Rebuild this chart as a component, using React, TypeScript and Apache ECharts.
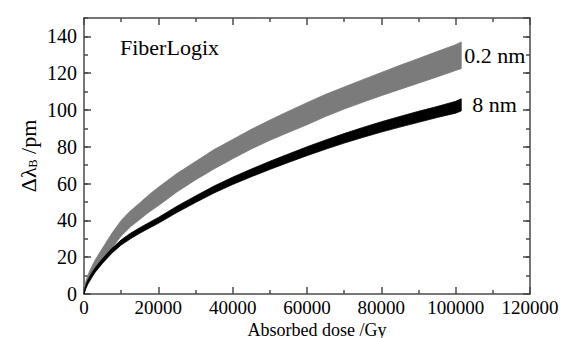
import React, { useEffect, useRef } from 'react';
import * as echarts from 'echarts';

// Absorbed dose (Gy)
const dose = [0, 500, 1000, 2000, 3000, 5000, 7500, 10000, 12500, 15000, 17500, 20000, 25000, 30000, 35000, 40000, 45000, 50000, 55000, 60000, 65000, 70000, 75000, 80000, 85000, 90000, 95000, 100000, 101500];

// 0.2 nm grating: lower and upper edge of the noisy band (pm)
const grayLow = [0, 3, 5, 8.5, 12, 17.5, 25, 31.5, 36.5, 40.5, 44.5, 48, 55.5, 62, 68, 73.5, 78.8, 83.5, 87.8, 92, 96.5, 100.5, 104.2, 107.8, 111.2, 114.6, 118, 121.5, 122.5];
const grayHigh = [2, 7, 10, 14.5, 18.5, 25, 33, 40, 45.2, 49.5, 54, 58, 65.5, 72, 78.5, 84, 89.5, 94.5, 99.3, 104, 108.5, 112.5, 116.5, 120.4, 124.3, 128, 131.8, 135.5, 137];

// 8 nm grating: lower and upper edge of the noisy band (pm)
const blackLow = [0, 3, 5.5, 8.8, 11.8, 16.7, 22.2, 26.6, 30, 33, 35.8, 38.4, 44.3, 49.7, 54.9, 59.5, 63.7, 67.7, 71.5, 75.2, 78.7, 82, 85.1, 88, 90.7, 93.3, 95.9, 98.3, 99.5];
const blackHigh = [0.8, 5, 7.5, 11.2, 14.2, 19.3, 24.8, 29.4, 33, 36, 38.8, 41.6, 47.7, 53.3, 58.7, 63.5, 67.9, 72.1, 76.1, 80, 83.7, 87.2, 90.5, 93.6, 96.5, 99.3, 101.9, 104.7, 106.1];

const xTitle = 'Absorbed dose /Gy';
const brand = 'FiberLogix';
const grayName = '0.2 nm';
const blackName = '8 nm';

export default function App() {
  const ref = useRef<HTMLDivElement>(null);

  useEffect(() => {
    document.body.style.margin = '0';
    const chart = echarts.init(ref.current!, null, { renderer: 'svg' });
    const font = "'Liberation Serif', 'DejaVu Serif', serif";
    const axisColor = '#4a4a4a';
    const lineStyle = { color: axisColor, width: 1.5 };

    const band = (low: number[], high: number[], color: string, z: number) => ({
      type: 'custom',
      z,
      silent: true,
      xAxisIndex: 0,
      yAxisIndex: 0,
      data: [[dose[0], low[0]]],
      renderItem: (_params: any, api: any) => {
        const pts: number[][] = [];
        for (let i = 0; i < dose.length; i++) pts.push(api.coord([dose[i], high[i]]));
        for (let i = dose.length - 1; i >= 0; i--) pts.push(api.coord([dose[i], low[i]]));
        return {
          type: 'polygon',
          shape: { points: pts },
          style: { fill: color, stroke: color, lineWidth: 0.8 },
        };
      },
    });

    const xBase = (pos: 'bottom' | 'top', labels: boolean) => ({
      type: 'value',
      min: 0,
      max: 120000,
      interval: 20000,
      position: pos,
      axisLine: { show: true, onZero: false, lineStyle },
      axisTick: { show: true, inside: true, length: 7, lineStyle },
      minorTick: { show: true, splitNumber: 2, length: 4, lineStyle },
      splitLine: { show: false },
      minorSplitLine: { show: false },
      axisLabel: {
        show: labels,
        formatter: (v: number) => String(v),
        fontFamily: font,
        fontSize: 19,
        lineHeight: 17,
        color: '#000',
        margin: 5,
      },
    });

    const yBase = (pos: 'left' | 'right', interval: number, len: number, labels: boolean, line: boolean) => ({
      type: 'value',
      min: 0,
      max: 150,
      interval,
      position: pos,
      axisLine: { show: line, onZero: false, lineStyle },
      axisTick: { show: true, inside: true, length: len, lineStyle },
      splitLine: { show: false },
      axisLabel: {
        show: labels,
        showMaxLabel: false,
        fontFamily: font,
        fontSize: 20,
        color: '#000',
        margin: 7,
      },
    });

    const xMain: any = xBase('bottom', true);
    xMain.name = xTitle;
    xMain.nameLocation = 'middle';
    xMain.nameGap = 27;
    xMain.nameMoveOverlap = false;
    xMain.nameTextStyle = { fontFamily: font, fontSize: 18, lineHeight: 17, color: '#000', padding: [0, 0, 0, 20] };

    const yMain: any = yBase('left', 20, 7, true, true);
    yMain.name = 'Δλ{b|B} /pm';
    yMain.nameLocation = 'middle';
    yMain.nameGap = 45;
    yMain.nameMoveOverlap = false;
    yMain.nameTextStyle = {
      fontFamily: font,
      fontSize: 22,
      color: '#000',
      rich: {
        b: { fontFamily: font, fontSize: 12, color: '#000', verticalAlign: 'bottom', padding: [8, 0, 0, 0] },
      },
    };

    chart.setOption({
      animation: false,
      grid: { left: 84, top: 18, right: 36, bottom: 44, containLabel: false, outerBoundsMode: 'none' },
      xAxis: [xMain, xBase('top', false)],
      yAxis: [
        yMain,
        yBase('left', 10, 4, false, false),
        yBase('right', 20, 7, false, true),
        yBase('right', 10, 4, false, false),
      ],
      series: [band(grayLow, grayHigh, '#7b7b7b', 2), band(blackLow, blackHigh, '#000000', 3)],
    });

    const last = dose.length - 1;
    const gMid = (grayLow[last] + grayHigh[last]) / 2;
    const bMid = (blackLow[last] + blackHigh[last]) / 2;
    const gp = chart.convertToPixel({ xAxisIndex: 0, yAxisIndex: 0 }, [dose[last], gMid]) as number[];
    const bp = chart.convertToPixel({ xAxisIndex: 0, yAxisIndex: 0 }, [dose[last], bMid]) as number[];
    const txt = { fontFamily: font, fontSize: 22, fill: '#000' };

    chart.setOption({
      graphic: [
        { type: 'text', left: 120, top: 36, style: { ...txt, text: brand } },
        { type: 'text', x: gp[0] + 3, y: gp[1], style: { ...txt, text: grayName, verticalAlign: 'middle' } },
        { type: 'text', x: bp[0] + 11, y: bp[1], style: { ...txt, text: blackName, verticalAlign: 'middle' } },
      ],
    });

    return () => chart.dispose();
  }, []);

  return <div ref={ref} style={{ width: 566, height: 338 }} />;
}
